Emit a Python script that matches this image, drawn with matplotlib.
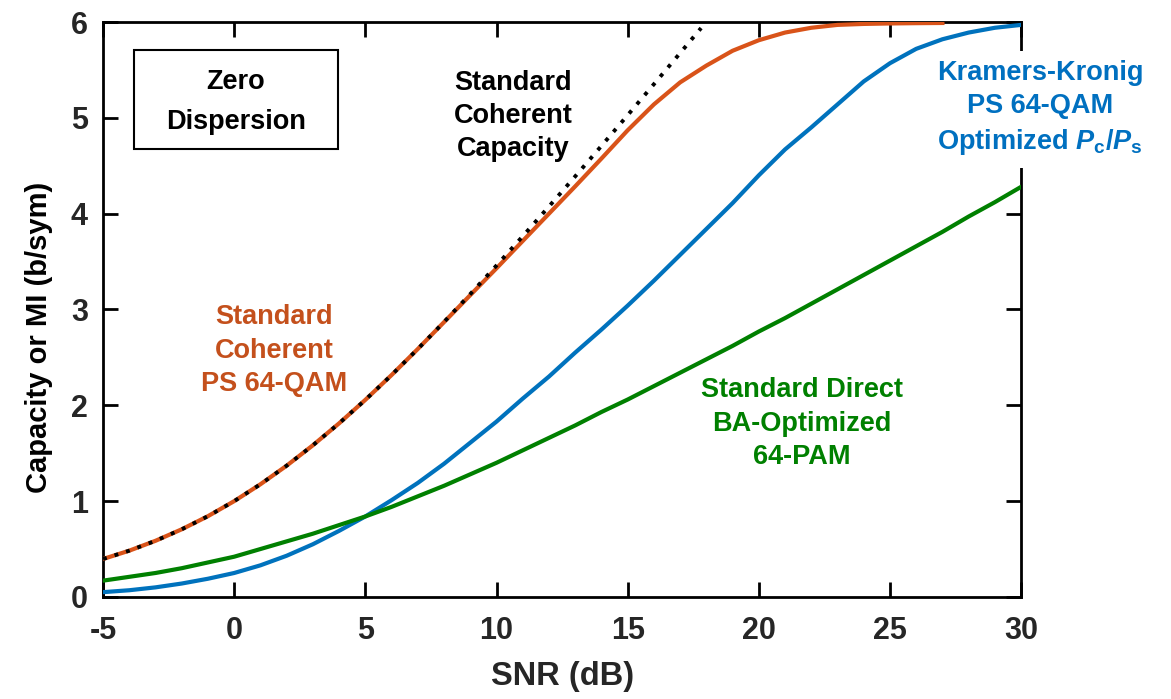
import matplotlib
matplotlib.use("Agg")
import matplotlib.pyplot as plt
from matplotlib.patches import Rectangle

# ---- data -------------------------------------------------------------
snr_capacity = [-5, -4, -3, -2, -1, 0, 1, 2, 3, 4, 5, 6, 7, 8, 9, 10,
                11, 12, 13, 14, 15, 16, 17, 17.8]
coherent_capacity = [0.396, 0.483, 0.586, 0.706, 0.843, 1.000, 1.176, 1.370,
                     1.583, 1.812, 2.057, 2.316, 2.588, 2.870, 3.161, 3.459,
                     3.764, 4.075, 4.389, 4.707, 5.028, 5.351, 5.676, 5.937]

snr_ps_qam = [-5, -4, -3, -2, -1, 0, 1, 2, 3, 4, 5, 6, 7, 8, 9, 10, 11, 12,
              13, 14, 15, 16, 17, 18, 19, 20, 21, 22, 23, 24, 25, 26, 27]
coherent_ps_qam = [0.396, 0.483, 0.586, 0.706, 0.843, 1.000, 1.176, 1.370,
                   1.583, 1.812, 2.057, 2.316, 2.588, 2.868, 3.150, 3.430,
                   3.715, 4.000, 4.285, 4.575, 4.870, 5.140, 5.370, 5.545,
                   5.700, 5.810, 5.890, 5.940, 5.970, 5.980, 5.985, 5.988,
                   5.990]

snr_full = [-5, -4, -3, -2, -1, 0, 1, 2, 3, 4, 5, 6, 7, 8, 9, 10, 11, 12,
            13, 14, 15, 16, 17, 18, 19, 20, 21, 22, 23, 24, 25, 26, 27, 28,
            29, 30]
kk_ps_qam = [0.05, 0.07, 0.10, 0.14, 0.19, 0.25, 0.33, 0.43, 0.55, 0.69,
             0.84, 1.01, 1.19, 1.39, 1.61, 1.83, 2.07, 2.30, 2.55, 2.79,
             3.04, 3.30, 3.57, 3.84, 4.11, 4.40, 4.67, 4.90, 5.14, 5.38,
             5.57, 5.72, 5.82, 5.89, 5.94, 5.97]
direct_pam = [0.17, 0.21, 0.25, 0.30, 0.36, 0.42, 0.50, 0.58, 0.66, 0.75,
              0.84, 0.94, 1.05, 1.16, 1.28, 1.40, 1.53, 1.66, 1.79, 1.93,
              2.06, 2.20, 2.34, 2.48, 2.62, 2.77, 2.91, 3.06, 3.21, 3.36,
              3.51, 3.66, 3.81, 3.97, 4.12, 4.28]

x_ticks = [-5, 0, 5, 10, 15, 20, 25, 30]
y_ticks = [0, 1, 2, 3, 4, 5, 6]

# ---- style ------------------------------------------------------------
plt.rcParams["font.family"] = ["Liberation Sans", "DejaVu Sans"]
plt.rcParams["font.weight"] = "bold"
plt.rcParams["axes.unicode_minus"] = False
plt.rcParams["mathtext.fontset"] = "custom"
plt.rcParams["mathtext.it"] = "Liberation Sans:italic:bold"
plt.rcParams["mathtext.rm"] = "Liberation Sans:bold"
plt.rcParams["mathtext.bf"] = "Liberation Sans:bold"

ORANGE = "#D95319"
ORANGE_TXT = "#C4501C"
BLUE = "#0072BD"
BLUE_TXT = "#0070C0"
GREEN = "#008000"
TICK_GRAY = "#262626"
LS = 1.36

fig = plt.figure(figsize=(11.71, 6.99), dpi=100)
ax = fig.add_axes([0.088, 0.146, 0.784, 0.8225])

ax.plot(snr_ps_qam, coherent_ps_qam, color=ORANGE, lw=3.0, zorder=3)
ax.plot(snr_capacity, coherent_capacity, color="black", lw=2.8,
        linestyle=(0, (1, 2.1)), zorder=4)
ax.plot(snr_full, kk_ps_qam, color=BLUE, lw=3.0, zorder=3)
ax.plot(snr_full, direct_pam, color=GREEN, lw=3.0, zorder=3)

ax.set_xlim(-5, 30)
ax.set_ylim(0, 6)
ax.set_xticks(x_ticks)
ax.set_yticks(y_ticks)
ax.tick_params(direction="in", length=11, width=2, top=True, right=True,
               labelsize=22, labelcolor=TICK_GRAY)
ax.tick_params(axis="x", pad=14)
ax.tick_params(axis="y", pad=11)
for s in ax.spines.values():
    s.set_linewidth(2)

ax.set_xlabel("SNR (dB)", fontsize=23.5, fontweight="bold", color=TICK_GRAY)
ax.set_ylabel("Capacity or MI (b/sym)", fontsize=21, fontweight="bold",
              color="black")
ax.xaxis.set_label_coords(0.5, -0.112)
ax.yaxis.set_label_coords(-0.054, 0.452)

# ---- annotations ------------------------------------------------------
ax.add_patch(Rectangle((0.0338, 0.779), 0.222, 0.172, transform=ax.transAxes,
                       fill=False, edgecolor="black", lw=1.5, zorder=5))
ax.text(0.07, 5.17, "Zero\nDispersion", ha="center", va="center",
        fontsize=19.5, fontweight="bold", color="black", linespacing=1.7)

ax.text(10.63, 5.02, "Standard\nCoherent\nCapacity", ha="center",
        va="center", fontsize=19.5, fontweight="bold", color="black",
        linespacing=LS)

ax.text(1.52, 2.57, "Standard\nCoherent\nPS 64-QAM", ha="center",
        va="center", fontsize=19.5, fontweight="bold", color=ORANGE_TXT,
        linespacing=LS)

ax.text(21.65, 1.81, "Standard Direct\nBA-Optimized\n64-PAM", ha="center",
        va="center", fontsize=19.5, fontweight="bold", color=GREEN,
        linespacing=LS)

ax.text(30.72, 5.10,
        "Kramers-Kronig\nPS 64-QAM\nOptimized $P_\\mathrm{c}$/$P_\\mathrm{s}$",
        ha="center", va="center", fontsize=19.5, fontweight="bold",
        color=BLUE_TXT, linespacing=LS, clip_on=False, zorder=6,
        bbox=dict(facecolor="white", edgecolor="none", pad=8))

fig.savefig("out.png", dpi=100)
